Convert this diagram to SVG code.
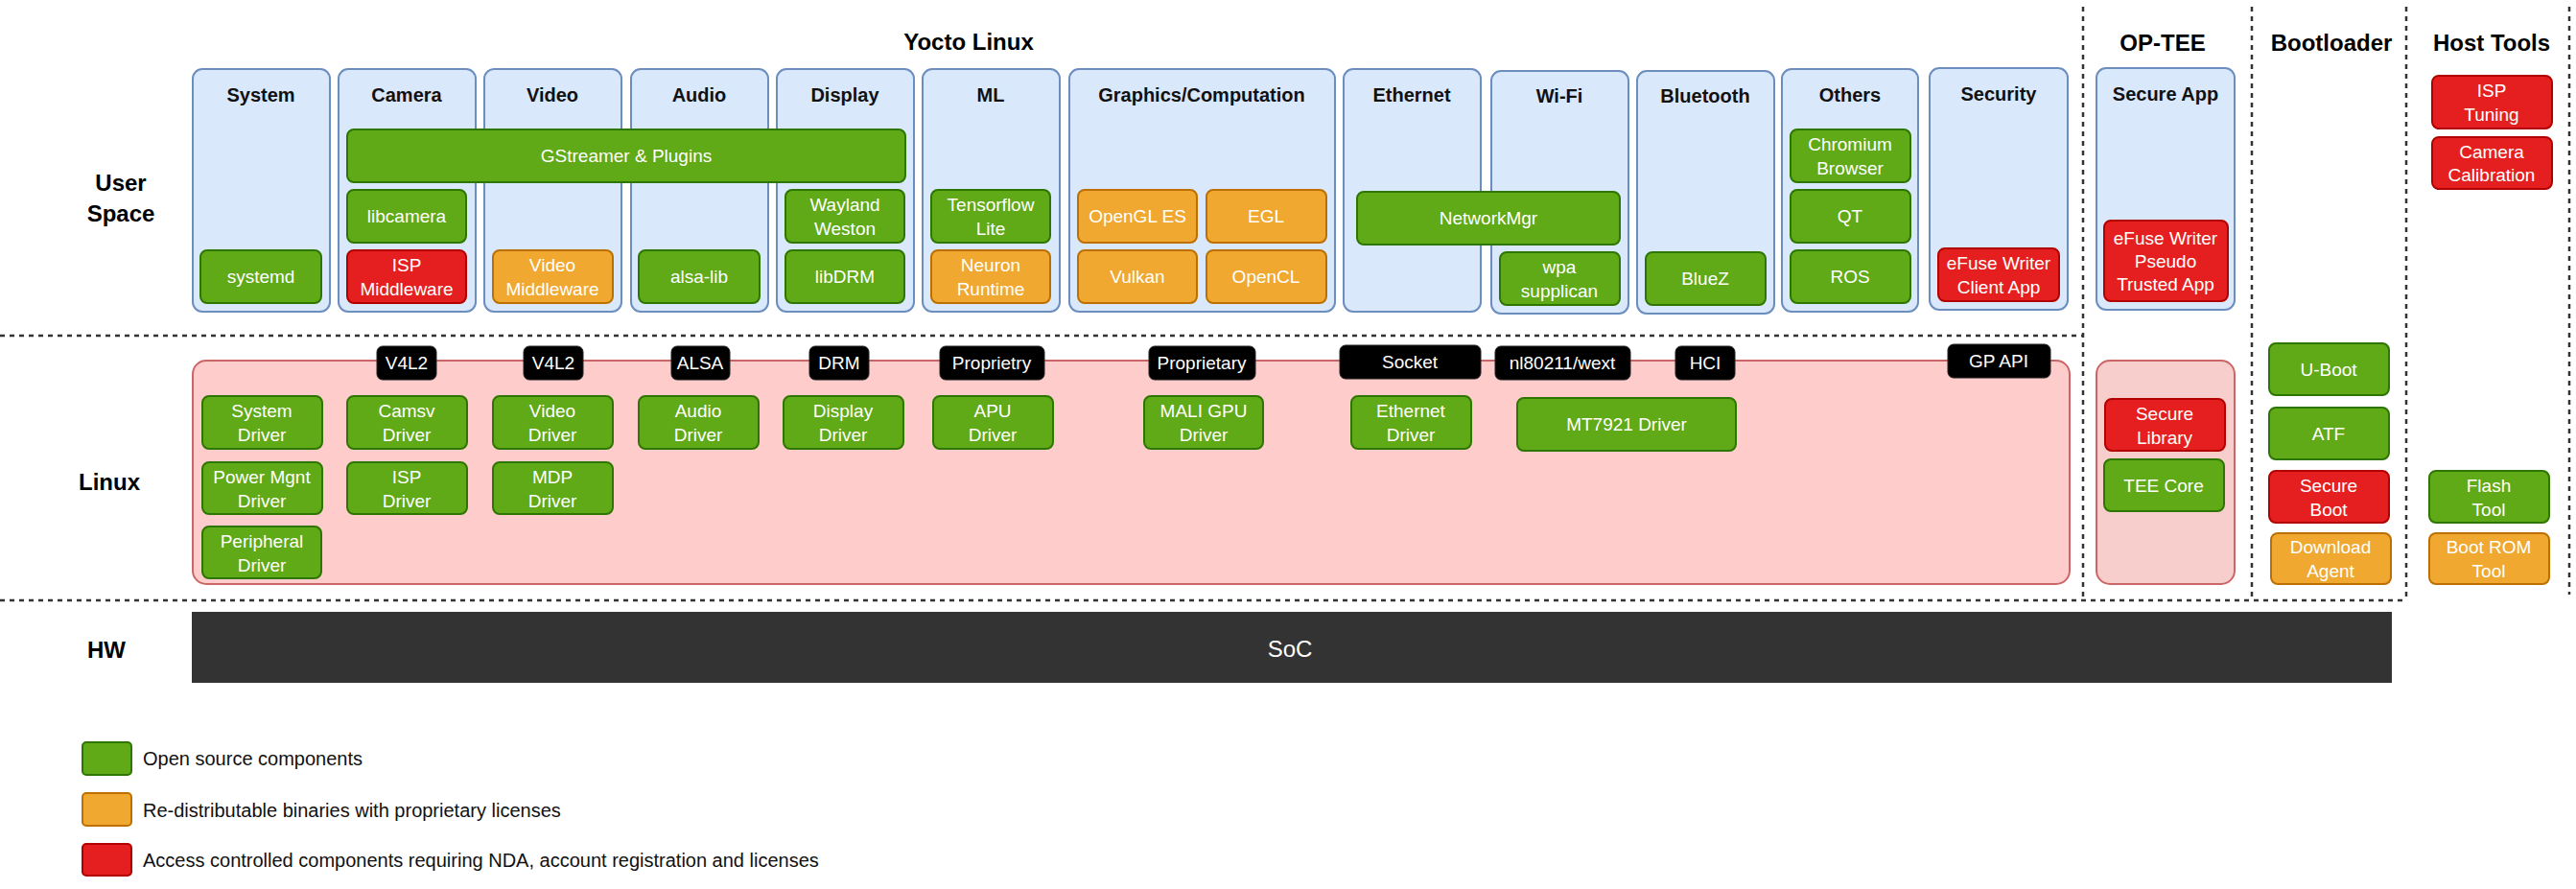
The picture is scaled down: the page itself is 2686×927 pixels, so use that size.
<svg xmlns="http://www.w3.org/2000/svg" width="2686" height="927" viewBox="0 0 2686 927">
<style>
text{font-family:"Liberation Sans",Arial,sans-serif;text-anchor:middle;dominant-baseline:central}
.col{fill:#dae8fc;stroke:#6c8ebf;stroke-width:2}
.g{fill:#60a917;stroke:#2d7600;stroke-width:2}
.o{fill:#f0a830;stroke:#bd7000;stroke-width:2}
.r{fill:#e51f1f;stroke:#b20000;stroke-width:2}
.k{fill:#000;stroke:#222;stroke-width:1}
.t{fill:#fff;font-size:19px}
.h{fill:#111;font-size:20px;font-weight:bold}
.big{fill:#000;font-size:24px;font-weight:bold}
.lg{fill:#111;font-size:20px;text-anchor:start}
.dash{stroke:#333;stroke-width:2.5;stroke-dasharray:5,5;fill:none}
</style>
<rect width="2686" height="927" fill="#fff"/>
<g id="separators">
<path class="dash" d="M0 350H2172M2172 7V626M0 626H2509M2348 7V626M2509 7V626M2679 7V620"/>
</g>
<g id="titles">
<text x="1010" y="43" class="big">Yocto Linux</text>
<text x="2255" y="44" class="big">OP-TEE</text>
<text x="2431" y="44" class="big">Bootloader</text>
<text x="2598" y="44" class="big">Host Tools</text>
<text x="126" y="190" class="big">User</text>
<text x="126" y="222" class="big">Space</text>
<text x="114" y="502" class="big">Linux</text>
<text x="111" y="677" class="big">HW</text>
</g>
<g id="columns">
<g id="c-system"><rect class="col" x="201" y="72" width="143" height="253" rx="10"/><text x="272" y="99" class="h">System</text></g>
<g id="c-camera"><rect class="col" x="353" y="72" width="143" height="253" rx="10"/><text x="424" y="99" class="h">Camera</text></g>
<g id="c-video"><rect class="col" x="505" y="72" width="143" height="253" rx="10"/><text x="576" y="99" class="h">Video</text></g>
<g id="c-audio"><rect class="col" x="658" y="72" width="143" height="253" rx="10"/><text x="729" y="99" class="h">Audio</text></g>
<g id="c-display"><rect class="col" x="810" y="72" width="143" height="253" rx="10"/><text x="881" y="99" class="h">Display</text></g>
<g id="c-ml"><rect class="col" x="962" y="72" width="143" height="253" rx="10"/><text x="1033" y="99" class="h">ML</text></g>
<g id="c-graphics"><rect class="col" x="1115" y="72" width="277" height="253" rx="10"/><text x="1253" y="99" class="h">Graphics/Computation</text></g>
<g id="c-ethernet"><rect class="col" x="1401" y="72" width="143" height="253" rx="10"/><text x="1472" y="99" class="h">Ethernet</text></g>
<g id="c-wifi"><rect class="col" x="1555" y="74" width="143" height="253" rx="10"/><text x="1626" y="100" class="h">Wi-Fi</text></g>
<g id="c-bt"><rect class="col" x="1707" y="74" width="143" height="253" rx="10"/><text x="1778" y="100" class="h">Bluetooth</text></g>
<g id="c-others"><rect class="col" x="1858" y="72" width="142" height="253" rx="10"/><text x="1929" y="99" class="h">Others</text></g>
<g id="c-security"><rect class="col" x="2012" y="71" width="144" height="252" rx="10"/><text x="2084" y="98" class="h">Security</text></g>
<g id="c-secureapp"><rect class="col" x="2186" y="71" width="144" height="252" rx="10"/><text x="2258" y="98" class="h">Secure App</text></g>
</g>
<g id="linux-box"><rect x="201" y="376" width="1957" height="233" rx="14" fill="#ffcccc" stroke="#cc6666" stroke-width="2"/></g>
<g id="optee-box"><rect x="2186" y="376" width="144" height="233" rx="14" fill="#f8cecc" stroke="#cc6666" stroke-width="2"/></g>
<g id="connectors"></g>
<g id="userspace-nodes">
<g id="gstreamer"><rect class="g" x="362" y="135" width="582" height="55" rx="7"/><text x="653" y="162" class="t">GStreamer &amp; Plugins</text></g>
<g id="libcamera"><rect class="g" x="362" y="198" width="124" height="55" rx="7"/><text x="424" y="225" class="t">libcamera</text></g>
<g id="wayland"><rect class="g" x="819" y="198" width="124" height="55" rx="7"/><text x="881" y="213" class="t">Wayland</text><text x="881" y="238" class="t">Weston</text></g>
<g id="tflite"><rect class="g" x="971" y="198" width="124" height="55" rx="7"/><text x="1033" y="213" class="t">Tensorflow</text><text x="1033" y="238" class="t">Lite</text></g>
<g id="opengles"><rect class="o" x="1124" y="198" width="124" height="55" rx="7"/><text x="1186" y="225" class="t">OpenGL ES</text></g>
<g id="egl"><rect class="o" x="1258" y="198" width="125" height="55" rx="7"/><text x="1320" y="225" class="t">EGL</text></g>
<g id="networkmgr"><rect class="g" x="1415" y="200" width="274" height="55" rx="7"/><text x="1552" y="227" class="t">NetworkMgr</text></g>
<g id="chromium"><rect class="g" x="1867" y="135" width="125" height="55" rx="7"/><text x="1929" y="150" class="t">Chromium</text><text x="1929" y="175" class="t">Browser</text></g>
<g id="qt"><rect class="g" x="1867" y="198" width="125" height="55" rx="7"/><text x="1929" y="225" class="t">QT</text></g>
<g id="systemd"><rect class="g" x="209" y="261" width="126" height="55" rx="7"/><text x="272" y="288" class="t">systemd</text></g>
<g id="ispmw"><rect class="r" x="362" y="261" width="124" height="55" rx="7"/><text x="424" y="276" class="t">ISP</text><text x="424" y="301" class="t">Middleware</text></g>
<g id="videomw"><rect class="o" x="514" y="261" width="125" height="55" rx="7"/><text x="576" y="276" class="t">Video</text><text x="576" y="301" class="t">Middleware</text></g>
<g id="alsalib"><rect class="g" x="666" y="261" width="126" height="55" rx="7"/><text x="729" y="288" class="t">alsa-lib</text></g>
<g id="libdrm"><rect class="g" x="819" y="261" width="124" height="55" rx="7"/><text x="881" y="288" class="t">libDRM</text></g>
<g id="neuron"><rect class="o" x="971" y="261" width="124" height="55" rx="7"/><text x="1033" y="276" class="t">Neuron</text><text x="1033" y="301" class="t">Runtime</text></g>
<g id="vulkan"><rect class="o" x="1124" y="261" width="124" height="55" rx="7"/><text x="1186" y="288" class="t">Vulkan</text></g>
<g id="opencl"><rect class="o" x="1258" y="261" width="125" height="55" rx="7"/><text x="1320" y="288" class="t">OpenCL</text></g>
<g id="wpa"><rect class="g" x="1564" y="263" width="125" height="55" rx="7"/><text x="1626" y="278" class="t">wpa</text><text x="1626" y="303" class="t">supplican</text></g>
<g id="bluez"><rect class="g" x="1716" y="263" width="125" height="55" rx="7"/><text x="1778" y="290" class="t">BlueZ</text></g>
<g id="ros"><rect class="g" x="1867" y="261" width="125" height="55" rx="7"/><text x="1929" y="288" class="t">ROS</text></g>
<g id="efuse-client"><rect class="r" x="2021" y="259" width="126" height="55" rx="7"/><text x="2084" y="274" class="t">eFuse Writer</text><text x="2084" y="299" class="t">Client App</text></g>
<g id="efuse-pta"><rect class="r" x="2194" y="230" width="129" height="84" rx="7"/><text x="2258" y="248" class="t">eFuse Writer</text><text x="2258" y="272" class="t">Pseudo</text><text x="2258" y="296" class="t">Trusted App</text></g>
</g>
<g id="tags">
<g id="t-v4l2a"><rect class="k" x="393" y="361" width="62" height="35" rx="6"/><text x="424" y="378" class="t">V4L2</text></g>
<g id="t-v4l2b"><rect class="k" x="546" y="361" width="62" height="35" rx="6"/><text x="577" y="378" class="t">V4L2</text></g>
<g id="t-alsa"><rect class="k" x="700" y="361" width="61" height="35" rx="6"/><text x="730" y="378" class="t">ALSA</text></g>
<g id="t-drm"><rect class="k" x="844" y="361" width="62" height="35" rx="6"/><text x="875" y="378" class="t">DRM</text></g>
<g id="t-propa"><rect class="k" x="980" y="361" width="109" height="35" rx="6"/><text x="1034" y="378" class="t">Proprietry</text></g>
<g id="t-propb"><rect class="k" x="1198" y="361" width="111" height="35" rx="6"/><text x="1253" y="378" class="t">Proprietary</text></g>
<g id="t-socket"><rect class="k" x="1397" y="360" width="147" height="35" rx="6"/><text x="1470" y="377" class="t">Socket</text></g>
<g id="t-nl"><rect class="k" x="1559" y="361" width="141" height="35" rx="6"/><text x="1629" y="378" class="t">nl80211/wext</text></g>
<g id="t-hci"><rect class="k" x="1747" y="361" width="62" height="35" rx="6"/><text x="1778" y="378" class="t">HCI</text></g>
<g id="t-gp"><rect class="k" x="2031" y="359" width="107" height="35" rx="6"/><text x="2084" y="376" class="t">GP API</text></g>
</g>
<g id="linux-nodes">
<g id="sysdrv"><rect class="g" x="211" y="413" width="125" height="55" rx="7"/><text x="273" y="428" class="t">System</text><text x="273" y="453" class="t">Driver</text></g>
<g id="camsv"><rect class="g" x="362" y="413" width="125" height="55" rx="7"/><text x="424" y="428" class="t">Camsv</text><text x="424" y="453" class="t">Driver</text></g>
<g id="videodrv"><rect class="g" x="514" y="413" width="125" height="55" rx="7"/><text x="576" y="428" class="t">Video</text><text x="576" y="453" class="t">Driver</text></g>
<g id="audiodrv"><rect class="g" x="666" y="413" width="125" height="55" rx="7"/><text x="728" y="428" class="t">Audio</text><text x="728" y="453" class="t">Driver</text></g>
<g id="displaydrv"><rect class="g" x="817" y="413" width="125" height="55" rx="7"/><text x="879" y="428" class="t">Display</text><text x="879" y="453" class="t">Driver</text></g>
<g id="apudrv"><rect class="g" x="973" y="413" width="125" height="55" rx="7"/><text x="1035" y="428" class="t">APU</text><text x="1035" y="453" class="t">Driver</text></g>
<g id="malidrv"><rect class="g" x="1193" y="413" width="124" height="55" rx="7"/><text x="1255" y="428" class="t">MALI GPU</text><text x="1255" y="453" class="t">Driver</text></g>
<g id="ethdrv"><rect class="g" x="1409" y="413" width="125" height="55" rx="7"/><text x="1471" y="428" class="t">Ethernet</text><text x="1471" y="453" class="t">Driver</text></g>
<g id="mt7921"><rect class="g" x="1582" y="415" width="228" height="55" rx="7"/><text x="1696" y="442" class="t">MT7921 Driver</text></g>
<g id="pwrdrv"><rect class="g" x="211" y="482" width="125" height="54" rx="7"/><text x="273" y="497" class="t">Power Mgnt</text><text x="273" y="522" class="t">Driver</text></g>
<g id="ispdrv"><rect class="g" x="362" y="482" width="125" height="54" rx="7"/><text x="424" y="497" class="t">ISP</text><text x="424" y="522" class="t">Driver</text></g>
<g id="mdpdrv"><rect class="g" x="514" y="482" width="125" height="54" rx="7"/><text x="576" y="497" class="t">MDP</text><text x="576" y="522" class="t">Driver</text></g>
<g id="periphdrv"><rect class="g" x="211" y="549" width="124" height="54" rx="7"/><text x="273" y="564" class="t">Peripheral</text><text x="273" y="589" class="t">Driver</text></g>
</g>
<g id="optee-nodes">
<g id="seclib"><rect class="r" x="2195" y="416" width="125" height="54" rx="7"/><text x="2257" y="431" class="t">Secure</text><text x="2257" y="456" class="t">Library</text></g>
<g id="teecore"><rect class="g" x="2194" y="479" width="125" height="54" rx="7"/><text x="2256" y="506" class="t">TEE Core</text></g>
</g>
<g id="boot-nodes">
<g id="uboot"><rect class="g" x="2366" y="358" width="125" height="54" rx="7"/><text x="2428" y="385" class="t">U-Boot</text></g>
<g id="atf"><rect class="g" x="2366" y="425" width="125" height="54" rx="7"/><text x="2428" y="452" class="t">ATF</text></g>
<g id="secboot"><rect class="r" x="2366" y="491" width="125" height="54" rx="7"/><text x="2428" y="506" class="t">Secure</text><text x="2428" y="531" class="t">Boot</text></g>
<g id="dlagent"><rect class="o" x="2368" y="556" width="125" height="53" rx="7"/><text x="2430" y="570" class="t">Download</text><text x="2430" y="595" class="t">Agent</text></g>
</g>
<g id="host-nodes">
<g id="isptuning"><rect class="r" x="2536" y="79" width="125" height="55" rx="7"/><text x="2598" y="94" class="t">ISP</text><text x="2598" y="119" class="t">Tuning</text></g>
<g id="camcal"><rect class="r" x="2536" y="143" width="125" height="54" rx="7"/><text x="2598" y="158" class="t">Camera</text><text x="2598" y="182" class="t">Calibration</text></g>
<g id="flashtool"><rect class="g" x="2533" y="491" width="125" height="54" rx="7"/><text x="2595" y="506" class="t">Flash</text><text x="2595" y="531" class="t">Tool</text></g>
<g id="bootrom"><rect class="o" x="2533" y="556" width="125" height="53" rx="7"/><text x="2595" y="570" class="t">Boot ROM</text><text x="2595" y="595" class="t">Tool</text></g>
</g>
<g id="soc"><rect x="200" y="638" width="2294" height="74" fill="#333"/><text x="1345" y="676" fill="#fff" font-size="24px">SoC</text></g>
<g id="legend">
<rect class="g" x="86" y="774" width="51" height="34" rx="4"/><text x="149" y="791" class="lg">Open source components</text>
<rect class="o" x="86" y="827" width="51" height="34" rx="4"/><text x="149" y="845" class="lg">Re-distributable binaries with proprietary licenses</text>
<rect class="r" x="86" y="880" width="51" height="33" rx="4"/><text x="149" y="897" class="lg">Access controlled components requiring NDA, account registration and licenses</text>
</g>
</svg>
